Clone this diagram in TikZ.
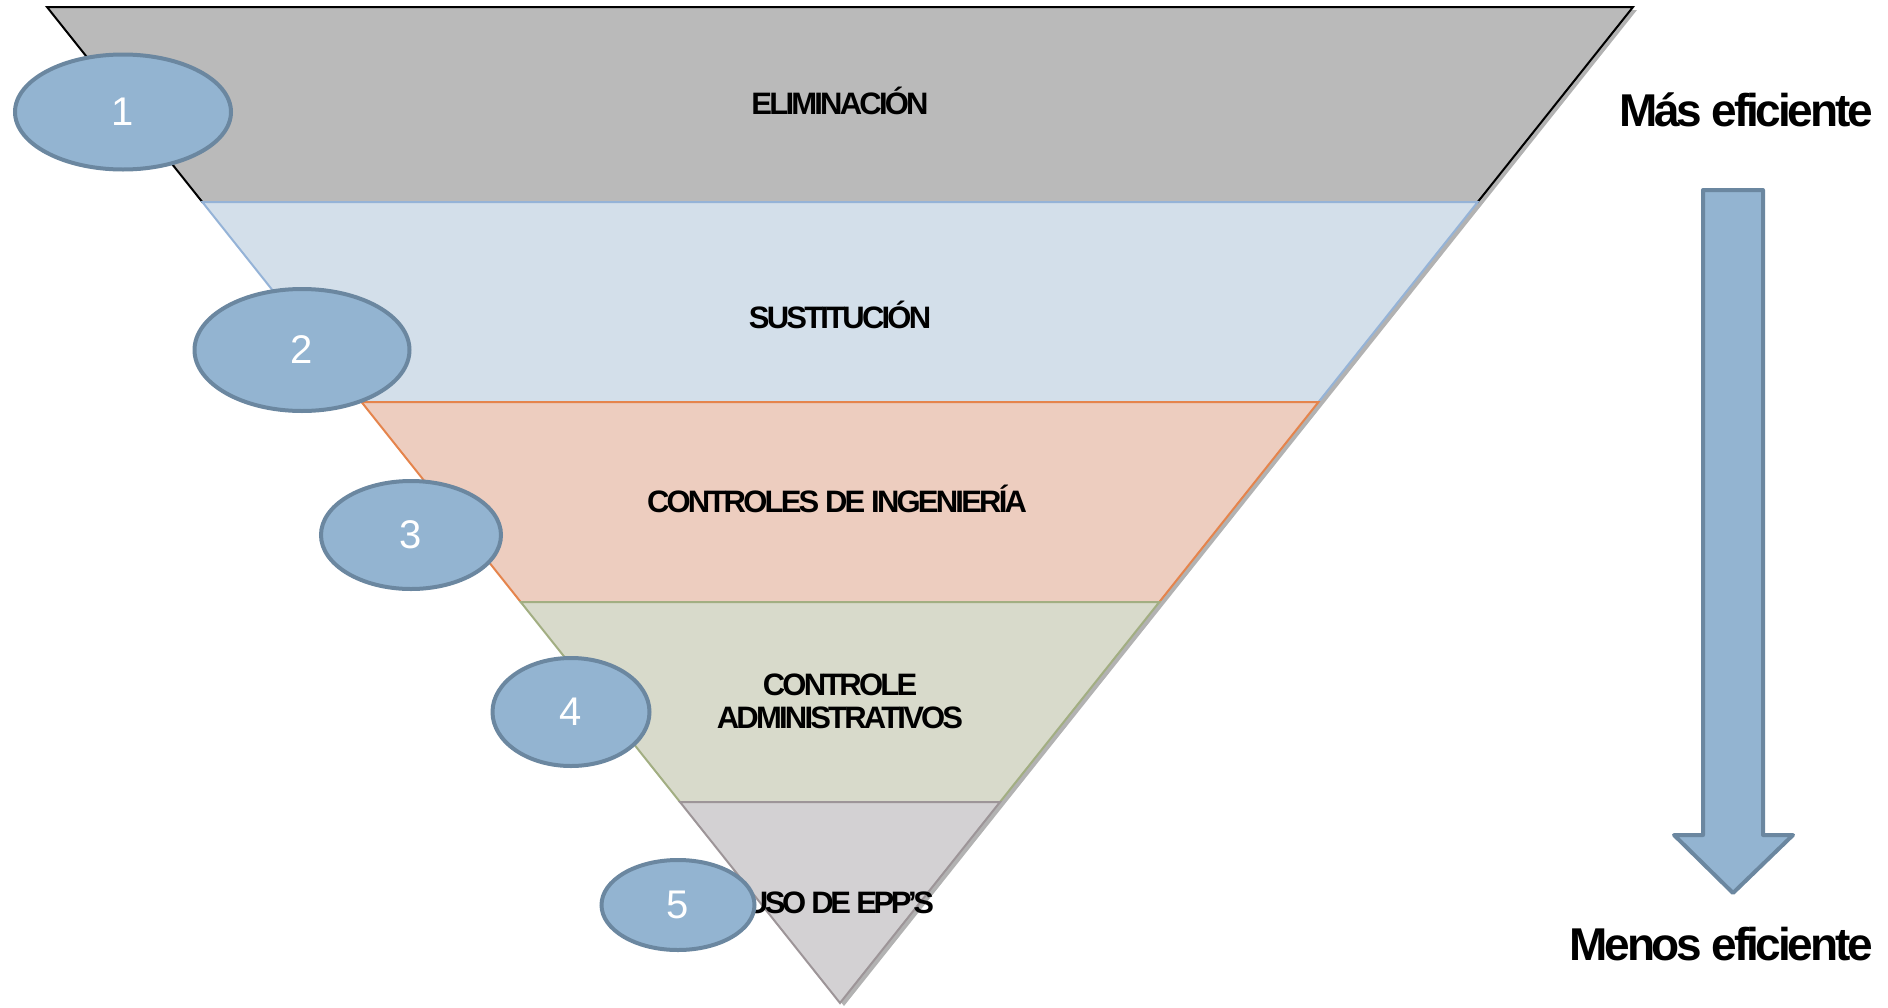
\documentclass[tikz,border=0pt]{standalone}
\usepackage{fontspec}
\setmainfont{Liberation Sans}
\newfontfamily\tightfont[LetterSpace=-9]{Liberation Sans}
\newfontfamily\tighterfont[LetterSpace=-11]{Liberation Sans}
\newfontfamily\sidefont[LetterSpace=-7]{Liberation Sans}
\usepackage{tikz}
\usetikzlibrary{shapes.geometric, positioning, calc}

\definecolor{elimfill}{HTML}{BABABA}
\definecolor{sustfill}{HTML}{D3DFEA}
\definecolor{sustline}{HTML}{95B3D7}
\definecolor{ingfill}{HTML}{EDCDBF}
\definecolor{ingline}{HTML}{E5844C}
\definecolor{admfill}{HTML}{D8DACB}
\definecolor{admline}{HTML}{A2AE82}
\definecolor{eppfill}{HTML}{D3D1D3}
\definecolor{eppline}{HTML}{9D9598}
\definecolor{levelfill}{HTML}{93B4D1}
\definecolor{levelline}{HTML}{6B87A0}

\tikzset{
  band/.style={line width=2pt, line join=miter},
  bandtext/.style={font=\tightfont\bfseries\fontsize{31}{33}\selectfont, align=center, inner sep=0pt, anchor=base},
  level/.style={ellipse, fill=levelfill, draw=levelline, line width=4pt, inner sep=0pt,
    text=white, font=\fontsize{40}{40}\selectfont},
  sidetext/.style={font=\sidefont\bfseries\fontsize{46}{46}\selectfont, anchor=base east, inner sep=0pt}
}

\begin{document}
\begin{tikzpicture}[x=1pt, y=-1pt]
  \useasboundingbox (0,0) rectangle (1888,1007);

  % Funnel corners
  \coordinate (tl) at (47,7);
  \coordinate (tr) at (1633,7);
  \coordinate (apex) at (840,1003);
  \coordinate (l1) at (202.3,202);  \coordinate (r1) at (1477.7,202);
  \coordinate (l2) at (361.5,402);  \coordinate (r2) at (1318.5,402);
  \coordinate (l3) at (520.7,602);  \coordinate (r3) at (1159.3,602);
  \coordinate (l4) at (680,802);    \coordinate (r4) at (1000,802);

  % Shadow
  \fill[black!30] (51,10) -- (1637,10) -- (844,1006) -- cycle;

  % Bands
  \filldraw[band, fill=elimfill, draw=black] (tl) -- (tr) -- (r1) -- (l1) -- cycle;
  \filldraw[band, fill=sustfill, draw=sustline] (l1) -- (r1) -- (r2) -- (l2) -- cycle;
  \filldraw[band, fill=ingfill, draw=ingline] (l2) -- (r2) -- (r3) -- (l3) -- cycle;
  \filldraw[band, fill=admfill, draw=admline] (l3) -- (r3) -- (r4) -- (l4) -- cycle;
  \filldraw[band, fill=eppfill, draw=eppline] (l4) -- (r4) -- (apex) -- cycle;

  % Band labels
  \node[bandtext] (elim) at (840,114) {ELIMINACIÓN};
  \node[bandtext] (sust) at (840,328) {SUSTITUCIÓN};
  \node[bandtext] (ing) at (837,512) {CONTROLES DE INGENIERÍA};
  \node[bandtext] (adm) at (840,728) {CONTROLE\\ADMINISTRATIVOS};
  \node[bandtext, font=\tighterfont\bfseries\fontsize{31}{33}\selectfont] (epp) at (840,913) {USO DE EPP’S};

  % Level markers
  \node[level, minimum width=216pt, minimum height=115pt] (n1) at (123,112) {1};
  \node[level, minimum width=215pt, minimum height=122pt] (n2) at (302,350) {2};
  \node[level, minimum width=180pt, minimum height=108pt] (n3) at (411,535) {3};
  \node[level, minimum width=157pt, minimum height=108pt] (n4) at (571,712) {4};
  \node[level, minimum width=153pt, minimum height=90pt] (n5) at (678,905) {5};

  % Efficiency arrow
  \filldraw[fill=levelfill, draw=levelline, line width=4pt, line join=round]
    (1703,190) -- (1763,190) -- (1763,835) -- (1793,835) -- (1733,893)
    -- (1674,835) -- (1703,835) -- cycle;

  \node[sidetext] (mas) at (1873,126) {Más eficiente};
  \node[sidetext] (menos) at (1873,960) {Menos eficiente};
\end{tikzpicture}
\end{document}
